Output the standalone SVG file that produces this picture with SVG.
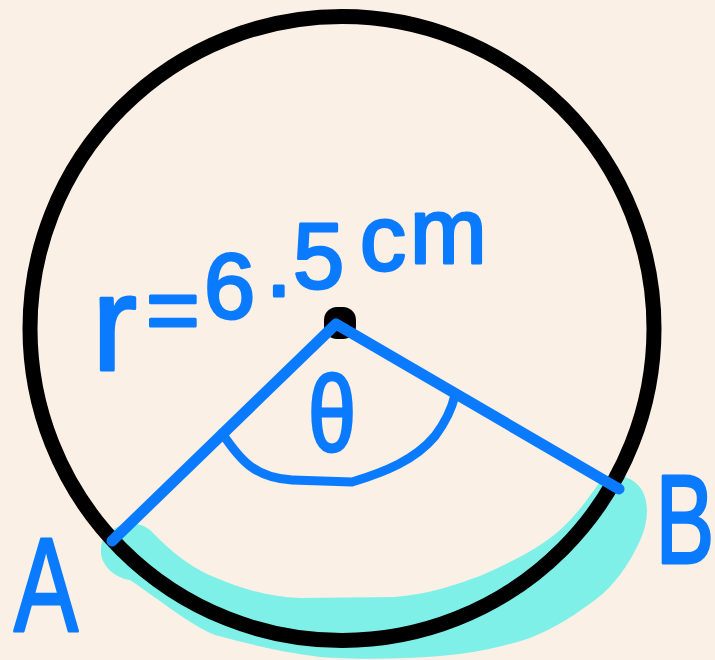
<svg xmlns="http://www.w3.org/2000/svg" width="715" height="660" viewBox="0 0 715 660">
<style>
.ink{fill:#0a7bff;stroke:#0a7bff;stroke-width:3;stroke-linejoin:round;font-family:"Liberation Sans","DejaVu Sans",sans-serif}
.blue{fill:none;stroke:#0a7bff;stroke-linecap:round;stroke-linejoin:round}
</style>
<rect width="715" height="660" fill="#faf0e6"/>
<g id="arc-highlight">
<path fill="#7ef0e7" d="M109,533 C120,522 137,520 150,530 C165,545 185,565 214,577 C245,590 270,597 300,598 L395,597 C430,594 455,585 480,576 C510,563 540,548 560,530 C580,512 590,495 600,482 C612,472 632,474 642,490 C650,505 648,525 638,545 C628,565 615,585 595,600 C575,615 555,628 530,638 C500,648 470,654 440,656 C400,659 360,660 320,657 C280,652 245,643 215,635 C190,625 160,600 130,580 C115,578 100,565 101,550 C101,540 105,536 109,533 Z"/>
</g>
<g id="circle">
<circle cx="342" cy="328.5" r="312" fill="none" stroke="#000" stroke-width="15"/>
</g>
<g id="center">
<rect x="324" y="307" width="32" height="32" rx="13" fill="#000"/>
</g>
<g id="connectors">
<path class="blue" stroke-width="11" d="M112,541 L336,324 L619,489"/>
<path class="blue" stroke-width="9" d="M222,433 C240,460 255,478 292,480 L352,482 C385,472 415,460 435,436 C447,420 452,408 455,395"/>
</g>
<g id="label-r">
<text class="ink" font-size="92"><tspan x="92" y="370" font-size="135">r</tspan><tspan x="146" y="342">=</tspan><tspan x="204" y="318">6</tspan><tspan x="266" y="296">.</tspan><tspan x="293" y="288">5</tspan><tspan x="360" y="270">c</tspan><tspan x="410" y="263">m</tspan></text>
</g>
<g id="label-theta">
<text class="ink" font-size="108" text-anchor="middle" transform="translate(332,451) scale(0.8,1)">θ</text>
</g>
<g id="label-A">
<text class="ink" font-size="128" text-anchor="middle" transform="translate(46,631) scale(0.75,1.05)">A</text>
</g>
<g id="label-B">
<text class="ink" font-size="126" text-anchor="middle" transform="translate(685,563) scale(0.7,1)">B</text>
</g>
</svg>
